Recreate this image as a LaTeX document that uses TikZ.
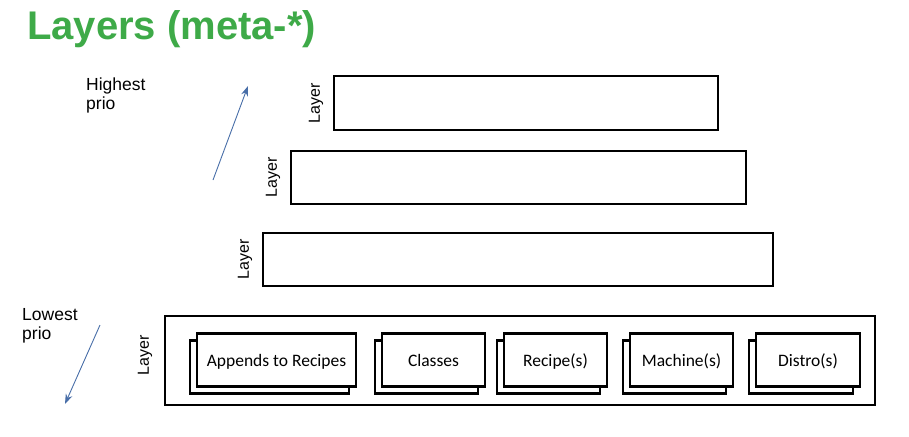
\documentclass[tikz,border=0pt]{standalone}
\usepackage{fontspec}
\setmainfont{Liberation Sans}
\newfontfamily\calib{Carlito}
\usetikzlibrary{arrows.meta}
\definecolor{titlegreen}{RGB}{62,170,72}
\definecolor{arrowblue}{RGB}{72,110,168}
\tikzset{
  layerbox/.style={draw=black, line width=2.2pt, fill=white, inner sep=0pt},
  itembox/.style={draw=black, line width=2.2pt, fill=white, inner sep=0pt, minimum height=53pt, text height=14pt, text depth=2pt, font=\calib\fontsize{17.5}{20}\selectfont},
  layerlabel/.style={rotate=90, font=\fontsize{16}{19}\selectfont},
  prio/.style={align=left, anchor=north west, inner sep=0pt, font=\fontsize{17.5}{19}\selectfont},
  prioarrow/.style={draw=arrowblue, line width=0.9pt, -{Stealth[length=10pt,width=7pt]}}
}
\begin{document}
\begin{tikzpicture}[x=1pt,y=-1pt]
\useasboundingbox (0,0) rectangle (909,436);
\node[anchor=west, inner sep=0pt, text=titlegreen, font=\bfseries\fontsize{40}{44}\selectfont] (title) at (27,29) {Layers (meta-*)};

\node[prio] (high) at (86,78) {Highest\\prio};
\node[prio] (low) at (22,308) {Lowest\\prio};
\coordinate (upA) at (213,180);
\coordinate (upB) at (248,86);
\coordinate (dnA) at (100,325);
\coordinate (dnB) at (65,404);
\draw[prioarrow] (upA) -- (upB);
\draw[prioarrow] (dnA) -- (dnB);

\node[layerbox, minimum width=384pt, minimum height=54pt] (L1) at (526,103) {};
\node[layerbox, minimum width=455pt, minimum height=53pt] (L2) at (518.5,177.5) {};
\node[layerbox, minimum width=510pt, minimum height=53pt] (L3) at (518,259.5) {};
\node[layerbox, minimum width=710pt, minimum height=89pt] (L4) at (520,360.5) {};

\node[layerlabel] (t1) at (316,103) {Layer};
\node[layerlabel] (t2) at (273,177) {Layer};
\node[layerlabel] (t3) at (245,259) {Layer};
\node[layerlabel] (t4) at (145,355) {Layer};

\foreach \nm/\cx/\w/\txt in {app/276.5/159/Appends to Recipes, cls/433.5/103/Classes, rec/555.5/103/Recipe(s), mac/681.5/103/Machine(s), dis/808/104/Distro(s)}{
  \node[itembox, minimum width=\w pt] (\nm back) at (\cx-7,367) {};
  \node[itembox, minimum width=\w pt] (\nm) at (\cx,360) {\txt};
}
\end{tikzpicture}
\end{document}
